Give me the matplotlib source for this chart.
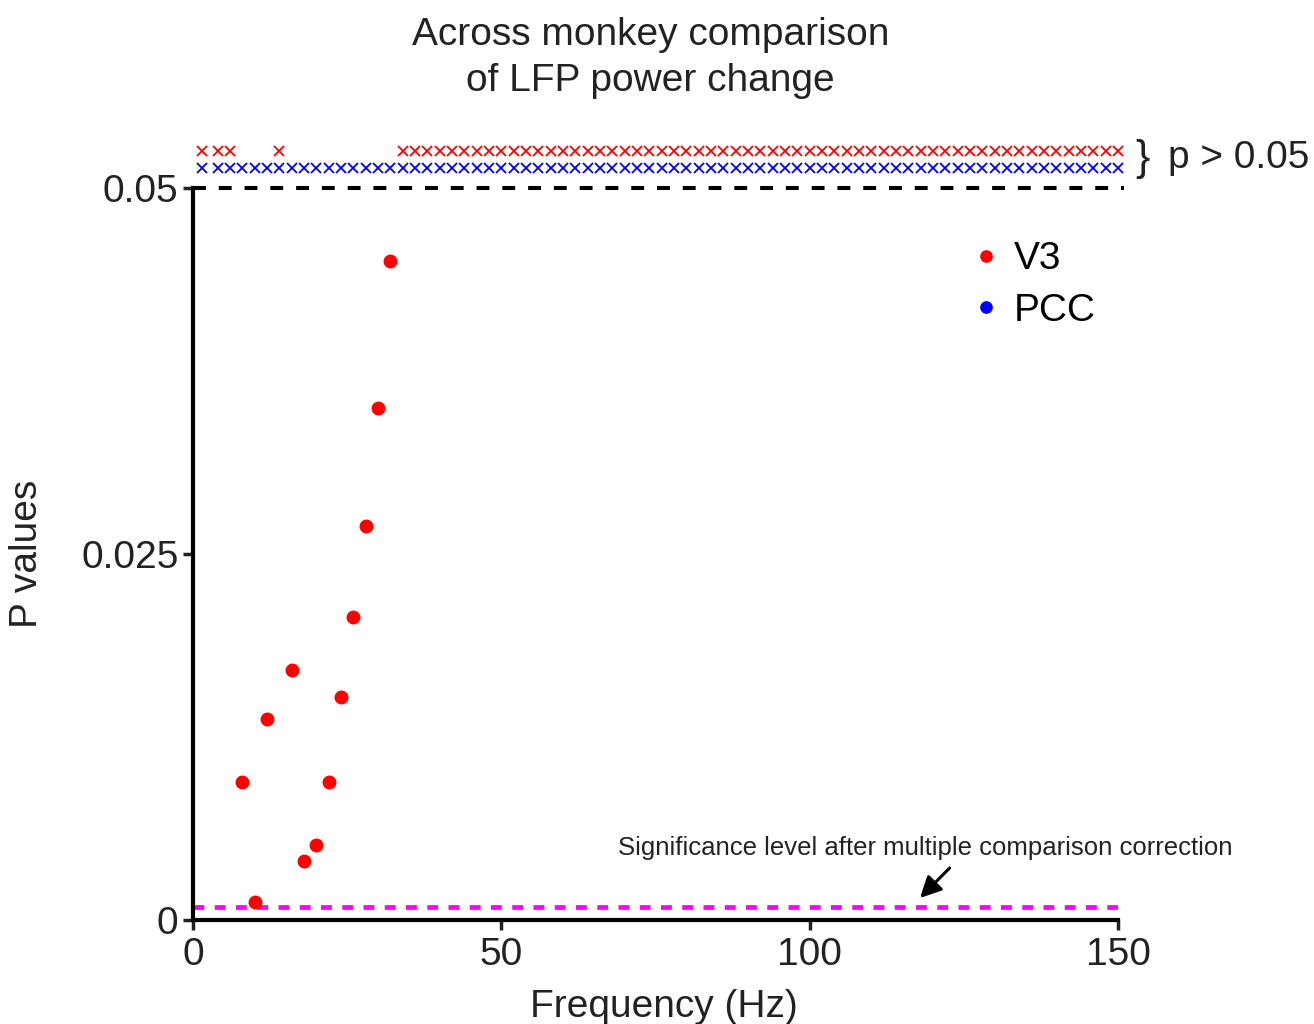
import numpy as np
import matplotlib
matplotlib.use("Agg")
import matplotlib.pyplot as plt

plt.rcParams['font.family'] = ['Liberation Sans', 'DejaVu Sans']

# V3 frequencies with p < 0.05 (dots) and their p values
v3_freq = [8, 10, 12, 16, 18, 20, 22, 24, 26, 28, 30, 32]
v3_p = [0.0094, 0.0012, 0.0137, 0.0171, 0.0040, 0.0051, 0.0094, 0.0152,
        0.0207, 0.0269, 0.0350, 0.0450]

# frequencies with p > 0.05 (drawn as crosses above the axis)
v3_ns_freq = [1.5, 4, 6, 14] + list(range(34, 151, 2))
pcc_ns_freq = [1.5] + list(range(4, 151, 2))

alpha = 0.05
alpha_corrected = 0.0009

fig = plt.figure(figsize=(13.14, 10.24), dpi=100)
ax = fig.add_axes([0.1469, 0.1016, 0.7039, 0.7148])

ax.plot([0, 151], [alpha, alpha], color='black', lw=2.9, ls=(0, (3.2, 3.2)),
        clip_on=False, zorder=3)
ax.plot([0, 150], [alpha_corrected, alpha_corrected], color='magenta', lw=3.4,
        ls=(0, (2.3, 2.2)), zorder=2)

ax.plot(v3_freq, v3_p, 'o', color='red', ms=9, label='V3', zorder=4)
ax.plot([], [], 'o', color='blue', ms=9, label='PCC')

ax.plot(v3_ns_freq, [0.05253] * len(v3_ns_freq), 'x', color='red', ms=7,
        mew=1.3, clip_on=False)
ax.plot(pcc_ns_freq, [0.05137] * len(pcc_ns_freq), 'x', color='blue', ms=7,
        mew=1.3, clip_on=False)

ax.set_xlim(0, 150)
ax.set_ylim(0, 0.05)
ax.set_xticks([0, 50, 100, 150])
ax.set_xticklabels(['0', '50', '100', '150'])
ax.set_yticks([0, 0.025, 0.05])
ax.set_yticklabels(['0', '0.025', '0.05'])
ax.tick_params(labelsize=28, width=2.5, length=7, direction='out', colors='#222222')
ax.tick_params(axis='x', pad=5)
for s in ['top', 'right']:
    ax.spines[s].set_visible(False)
for s in ['left', 'bottom']:
    ax.spines[s].set_linewidth(3)

ax.set_xlabel('Frequency (Hz)', fontsize=28, color='#222222')
ax.xaxis.set_label_coords(0.509, -0.095)
ax.set_ylabel('P values', fontsize=28, color='#222222')
ax.yaxis.set_label_coords(-0.16, 0.5)

fig.text(0.495, 0.983, 'Across monkey comparison\nof LFP power change',
         ha='center', va='top', fontsize=28, color='#222222', linespacing=1.35)

fig.text(0.864, 0.845, '}', fontsize=31, color='#222222', va='center')
fig.text(0.889, 0.846, 'p > 0.05', fontsize=28, color='#222222', va='center')

ax.text(118.7, 0.0041, 'Significance level after multiple comparison correction',
        ha='center', va='bottom', fontsize=18.5, color='#222222')
ax.annotate('', xy=(117.9, 0.0015), xytext=(122.7, 0.00355),
            arrowprops=dict(arrowstyle='-|>', color='black', lw=2.2,
                            mutation_scale=32, shrinkA=0, shrinkB=0))

ax.legend(loc='upper left', bbox_to_anchor=(0.807, 0.975), frameon=False,
          fontsize=28, handlelength=0.6, handletextpad=0.4, labelspacing=0.4,
          markerscale=0.9)

fig.savefig('out.png', dpi=100)
